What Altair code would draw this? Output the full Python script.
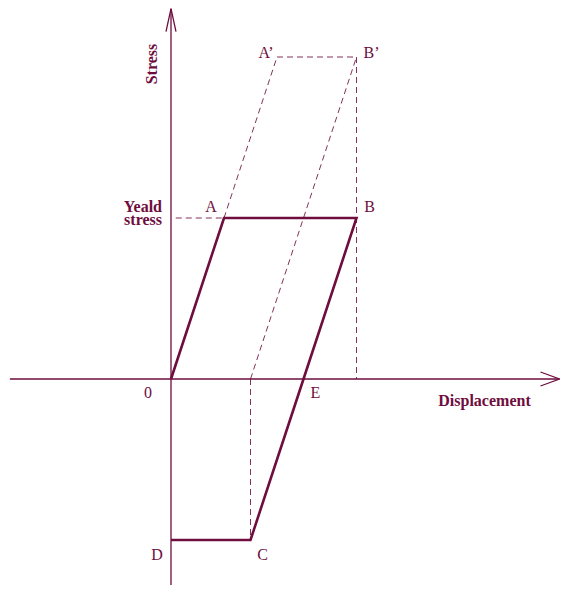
import altair as alt
import pandas as pd

# ---------------- data (displacement, stress) in yield units ----------------
point_names = ["O", "A", "B", "E", "C", "D", "A'", "B'", "F", "G", "Y"]
point_disp = [0.0, 1.0, 3.5, 2.5, 1.5, 0.0, 2.0, 3.5, 1.5, 3.5, 0.09]
point_stress = [0.0, 1.0, 1.0, 0.0, -1.0, -1.0, 2.0, 2.0, 0.0, 0.0, 1.0]

loading_path = ["O", "A", "B", "E", "C", "D"]
dashed_segments = [("Y", "A"), ("A", "A'"), ("A'", "B'"), ("B'", "G"),
                   ("F", "B'"), ("F", "C")]

label_points = ["A'", "B'", "A", "B", "O", "E", "D", "C"]
label_texts = ["A\u2019", "B\u2019", "A", "B", "0", "E", "D", "C"]

x_axis_extent = [-3.04, 7.33]
y_axis_extent = [-1.33, 2.30]
x_title = "Displacement"
y_title = "Stress"
yield_label = ["Yeald", "stress"]

# ---------------- layout / style ----------------
W, H = 552, 577
PX_X, PX_Y = 53.0, 161.0          # pixels per unit
OX, OY = 163.0, 371.0             # origin inside the view
COLOR = "#6e0d3e"
FONT = "Liberation Serif"
FS = 16

label_offsets = {"A'": (-11, 1), "B'": (15, 1), "A": (-13, -6), "B": (13, -6),
                 "O": (-23, 19), "E": (12, 19), "D": (-14, 20), "C": (12, 20)}

xdom = [-OX / PX_X, (W - OX) / PX_X]
ydom = [-(H - OY) / PX_Y, OY / PX_Y]
xs = alt.Scale(domain=xdom, nice=False, zero=False)
ys = alt.Scale(domain=ydom, nice=False, zero=False)

P = {n: (x, y) for n, x, y in zip(point_names, point_disp, point_stress)}


def X(f="x"):
    return alt.X(f"{f}:Q", scale=xs, axis=None)


def Y(f="y"):
    return alt.Y(f"{f}:Q", scale=ys, axis=None)


# axes
axes_df = pd.DataFrame([
    {"x": x_axis_extent[0], "y": 0.0, "x2": x_axis_extent[1], "y2": 0.0},
    {"x": 0.0, "y": y_axis_extent[0], "x2": 0.0, "y2": y_axis_extent[1]},
])
axes = alt.Chart(axes_df).mark_rule(color=COLOR, strokeWidth=1.3).encode(
    x=X(), y=Y(), x2=alt.X2("x2:Q"), y2=alt.Y2("y2:Q"))

xarrow = alt.Chart(pd.DataFrame([{"x": x_axis_extent[1], "y": 0.0}])).mark_point(
    shape="M -1 -0.368 L 0 0 L -1 0.368", size=1444, filled=False,
    stroke=COLOR, strokeWidth=1.3, opacity=1).encode(x=X(), y=Y())
yarrow = alt.Chart(pd.DataFrame([{"x": 0.0, "y": y_axis_extent[1]}])).mark_point(
    shape="M -0.217 1 L 0 0 L 0.217 1", size=2116, filled=False,
    stroke=COLOR, strokeWidth=1.3, opacity=1).encode(x=X(), y=Y())

# dashed construction lines
dash_df = pd.DataFrame([
    {"x": P[a][0], "y": P[a][1], "x2": P[b][0], "y2": P[b][1]}
    for a, b in dashed_segments])
dashed = alt.Chart(dash_df).mark_rule(
    color=COLOR, strokeWidth=1, strokeDash=[6, 4], opacity=0.85).encode(
    x=X(), y=Y(), x2=alt.X2("x2:Q"), y2=alt.Y2("y2:Q"))

# thick loading path
path_df = pd.DataFrame([{"x": P[n][0], "y": P[n][1], "o": i}
                        for i, n in enumerate(loading_path)])
path = alt.Chart(path_df).mark_line(
    color=COLOR, strokeWidth=2.6, strokeJoin="miter").encode(
    x=X(), y=Y(), order="o:Q")

layers = [axes, xarrow, yarrow, dashed, path]

# point labels
for n, t in zip(label_points, label_texts):
    dx, dy = label_offsets[n]
    layers.append(
        alt.Chart(pd.DataFrame([{"x": P[n][0], "y": P[n][1], "t": t}])).mark_text(
            font=FONT, fontSize=FS, color=COLOR, align="center",
            baseline="alphabetic", dx=dx, dy=dy).encode(x=X(), y=Y(), text="t:N"))

# axis titles
layers.append(
    alt.Chart(pd.DataFrame([{"x": 0.0, "y": 0.0, "t": x_title}])).mark_text(
        font=FONT, fontSize=FS, fontWeight="bold", color=COLOR, align="center",
        baseline="alphabetic", dx=313.5, dy=27).encode(x=X(), y=Y(), text="t:N"))
layers.append(
    alt.Chart(pd.DataFrame([{"x": 0.0 - 14 / PX_X,
                             "y": 315 / PX_Y, "t": y_title}])).mark_text(
        font=FONT, fontSize=FS, fontWeight="bold", color=COLOR, align="center",
        baseline="alphabetic", angle=270).encode(x=X(), y=Y(), text="t:N"))
for t, dy in zip(yield_label, [-6, 7]):
    layers.append(
        alt.Chart(pd.DataFrame([{"x": 0.0, "y": 1.0, "t": t}])).mark_text(
            font=FONT, fontSize=FS, fontWeight="bold", color=COLOR, align="right",
            baseline="alphabetic", dx=-9, dy=dy).encode(x=X(), y=Y(), text="t:N"))

chart = alt.layer(*layers).properties(
    width=W, height=H, padding=0, autosize=alt.AutoSizeParams(type="none")
).configure_view(stroke=None)

chart.save("out.html", embed_options={"renderer": "svg", "actions": False})
